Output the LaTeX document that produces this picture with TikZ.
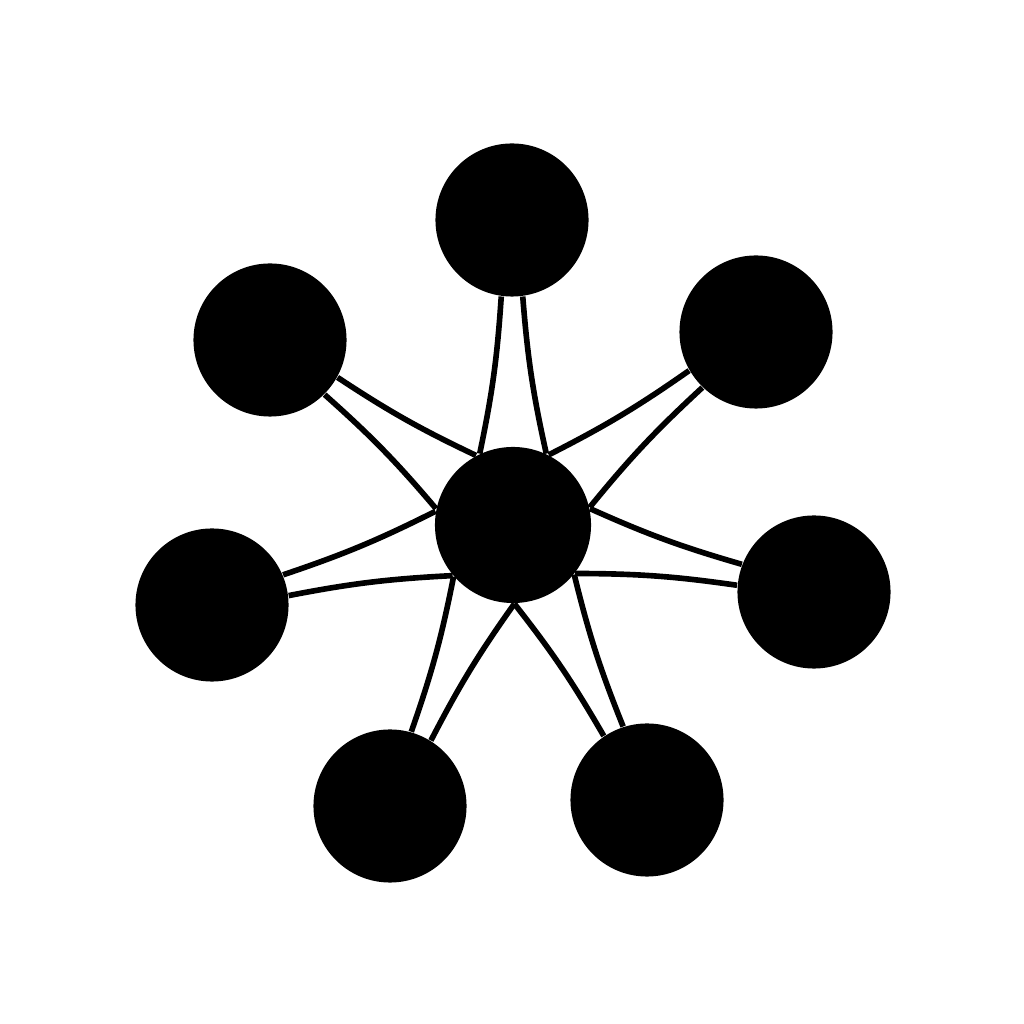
\documentclass[tikz,border=0pt]{standalone}
\usepackage{tikz}

\tikzset{
    hub/.style={circle, fill=black, minimum size=1.56cm, inner sep=0pt},
    leaf/.style={circle, fill=black, minimum size=1.53cm, inner sep=0pt},
    spoke/.style={line width=1.6pt}
}

\begin{document}
\begin{tikzpicture}[x=0.01cm, y=0.01cm]
        \useasboundingbox[fill=white] (0,0) rectangle (1024,1024);
        \node[hub] (c) at (513,499) {};
        \foreach \name/\px/\py/\ang in {top/512/804/90, ul/270/684/143, ur/756/692/38.5,
                                         l/212/419/195, r/814/432/347.5, ll/390/218/246.4, lr/647/224/296}{
            \node[leaf] (\name) at (\px,\py) {};
            \draw[spoke] (c.{\ang+25}) to[bend right=4] (\name.{\ang+172});
            \draw[spoke] (c.{\ang-25}) to[bend left=4] (\name.{\ang+188});
        }
    \end{tikzpicture}
\end{document}
